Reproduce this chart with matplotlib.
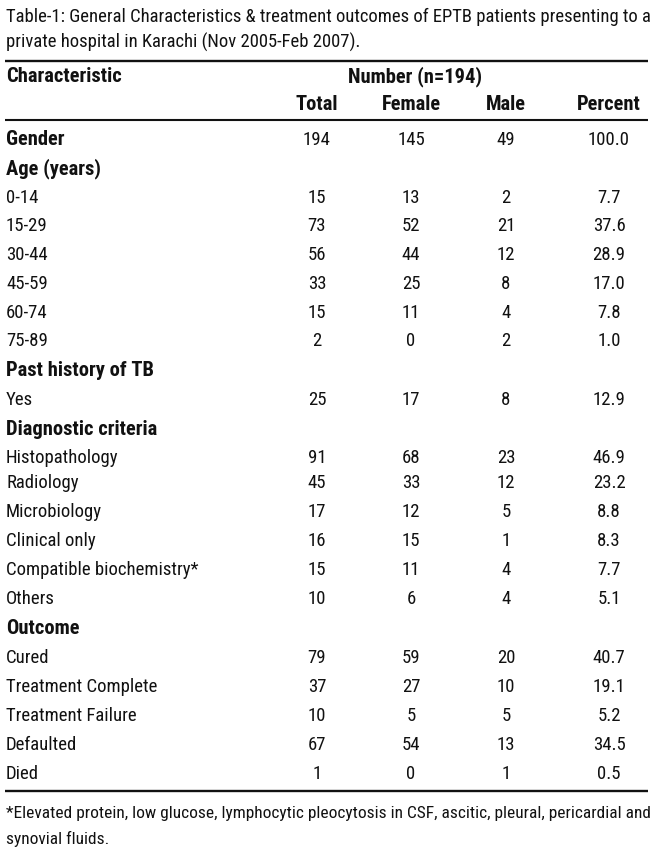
import matplotlib
matplotlib.use("Agg")
import matplotlib.pyplot as plt
from matplotlib import font_manager as fm

# ---------------- data ----------------
title_lines = [
    "Table-1: General Characteristics & treatment outcomes of EPTB patients presenting to a",
    "private hospital in Karachi (Nov 2005-Feb 2007).",
]
header_left = "Characteristic"
header_span = "Number (n=194)"
col_headers = ["Total", "Female", "Male", "Percent"]

categories = ["Gender", "Age (years)", "0-14", "15-29", "30-44", "45-59", "60-74", "75-89",
              "Past history of TB", "Yes", "Diagnostic criteria", "Histopathology", "Radiology",
              "Microbiology", "Clinical only", "Compatible biochemistry*", "Others", "Outcome",
              "Cured", "Treatment Complete", "Treatment Failure", "Defaulted", "Died"]
bold_rows = ["Gender", "Age (years)", "Past history of TB", "Diagnostic criteria", "Outcome"]
total = [194, None, 15, 73, 56, 33, 15, 2, None, 25, None, 91, 45, 17, 16, 15, 10, None, 79, 37, 10, 67, 1]
female = [145, None, 13, 52, 44, 25, 11, 0, None, 17, None, 68, 33, 12, 15, 11, 6, None, 59, 27, 5, 54, 0]
male = [49, None, 2, 21, 12, 8, 4, 2, None, 8, None, 23, 12, 5, 1, 4, 4, None, 20, 10, 5, 13, 1]
percent = ["100.0", None, "7.7", "37.6", "28.9", "17.0", "7.8", "1.0", None, "12.9", None,
           "46.9", "23.2", "8.8", "8.3", "7.7", "5.1", None, "40.7", "19.1", "5.2", "34.5", "0.5"]
footnote_lines = [
    "*Elevated protein, low glucose, lymphocytic pleocytosis in CSF, ascitic, pleural, pericardial and",
    "synovial fluids.",
]

# ---------------- layout ----------------
W, H = 650, 849
row_y = [138, 167, 196, 224, 253, 282, 311, 339, 369, 398, 428, 456, 481, 510, 539, 568, 597,
         627, 656, 685, 714, 743, 772]
col_x = [317, 411, 506, 609]

# pick a narrow / condensed face if one is installed
FAM = ["DejaVu Sans"]
STRETCH = "normal"
names = {}
for f in fm.fontManager.ttflist:
    names.setdefault(f.name, set()).add(str(f.stretch))
for cand in ["Liberation Sans Narrow", "Roboto Condensed", "Open Sans Condensed",
             "Noto Sans Condensed", "DejaVu Sans Condensed", "Arial Narrow"]:
    if cand in names:
        FAM = [cand, "DejaVu Sans"]
        break
else:
    for nm in ["DejaVu Sans", "Noto Sans", "Roboto", "Open Sans"]:
        st = names.get(nm, set())
        if any(s in ("condensed", "semi-condensed", "75", "62", "87", "extra-condensed") for s in st):
            FAM = [nm, "DejaVu Sans"]
            STRETCH = "condensed"
            break

fig = plt.figure(figsize=(W / 100, H / 100), dpi=100)
ax = fig.add_axes([0, 0, 1, 1])
ax.set_xlim(0, W)
ax.set_ylim(H, 0)
ax.axis("off")
renderer = fig.canvas.get_renderer()
INK = "#111111"


def width_at(s, fs, bold):
    t = ax.text(0, 0, s, family=FAM, fontsize=fs, fontstretch=STRETCH,
                fontweight="bold" if bold else "normal")
    w = t.get_window_extent(renderer).width
    t.remove()
    return w


def fit(s, target, bold=False):
    return 12.0 * target / width_at(s, 12.0, bold)


FS_BODY = fit("Treatment Complete", 151)
FS_BOLD = fit("Characteristic", 116, bold=True)
FS_TITLE = fit(title_lines[0], 641)
FS_FOOT = fit(footnote_lines[0], 641)


def put(x, yc, s, ha="left", bold=False, fs=None):
    if fs is None:
        fs = FS_BOLD if bold else FS_BODY
    ax.text(x, yc + fs * 100 / 72 * 0.36, s, ha=ha, va="baseline", family=FAM,
            fontsize=fs, fontstretch=STRETCH,
            fontweight="bold" if bold else "normal", color=INK)


# title
put(6, 15, title_lines[0], fs=FS_TITLE)
put(6, 41, title_lines[1], fs=FS_TITLE)

# rules
ax.plot([5, 648], [61, 61], color=INK, lw=1.7, solid_capstyle="butt")
ax.plot([5, 648], [120, 120], color=INK, lw=1.5, solid_capstyle="butt")
ax.plot([5, 648], [791, 791], color=INK, lw=1.7, solid_capstyle="butt")

# headers
put(6, 75, header_left, bold=True)
put(415, 75, header_span, ha="center", bold=True)
for x, h in zip(col_x, col_headers):
    put(x, 103, h, ha="center", bold=True)

# body
for i, cat in enumerate(categories):
    y = row_y[i]
    put(6, y, cat, bold=cat in bold_rows)
    vals = [total[i], female[i], male[i], percent[i]]
    for x, v in zip(col_x, vals):
        if v is not None:
            put(x, y, str(v), ha="center")

# footnote
put(6, 812, footnote_lines[0], fs=FS_FOOT)
put(6, 838, footnote_lines[1], fs=FS_FOOT)

fig.savefig("out.png", dpi=100)
